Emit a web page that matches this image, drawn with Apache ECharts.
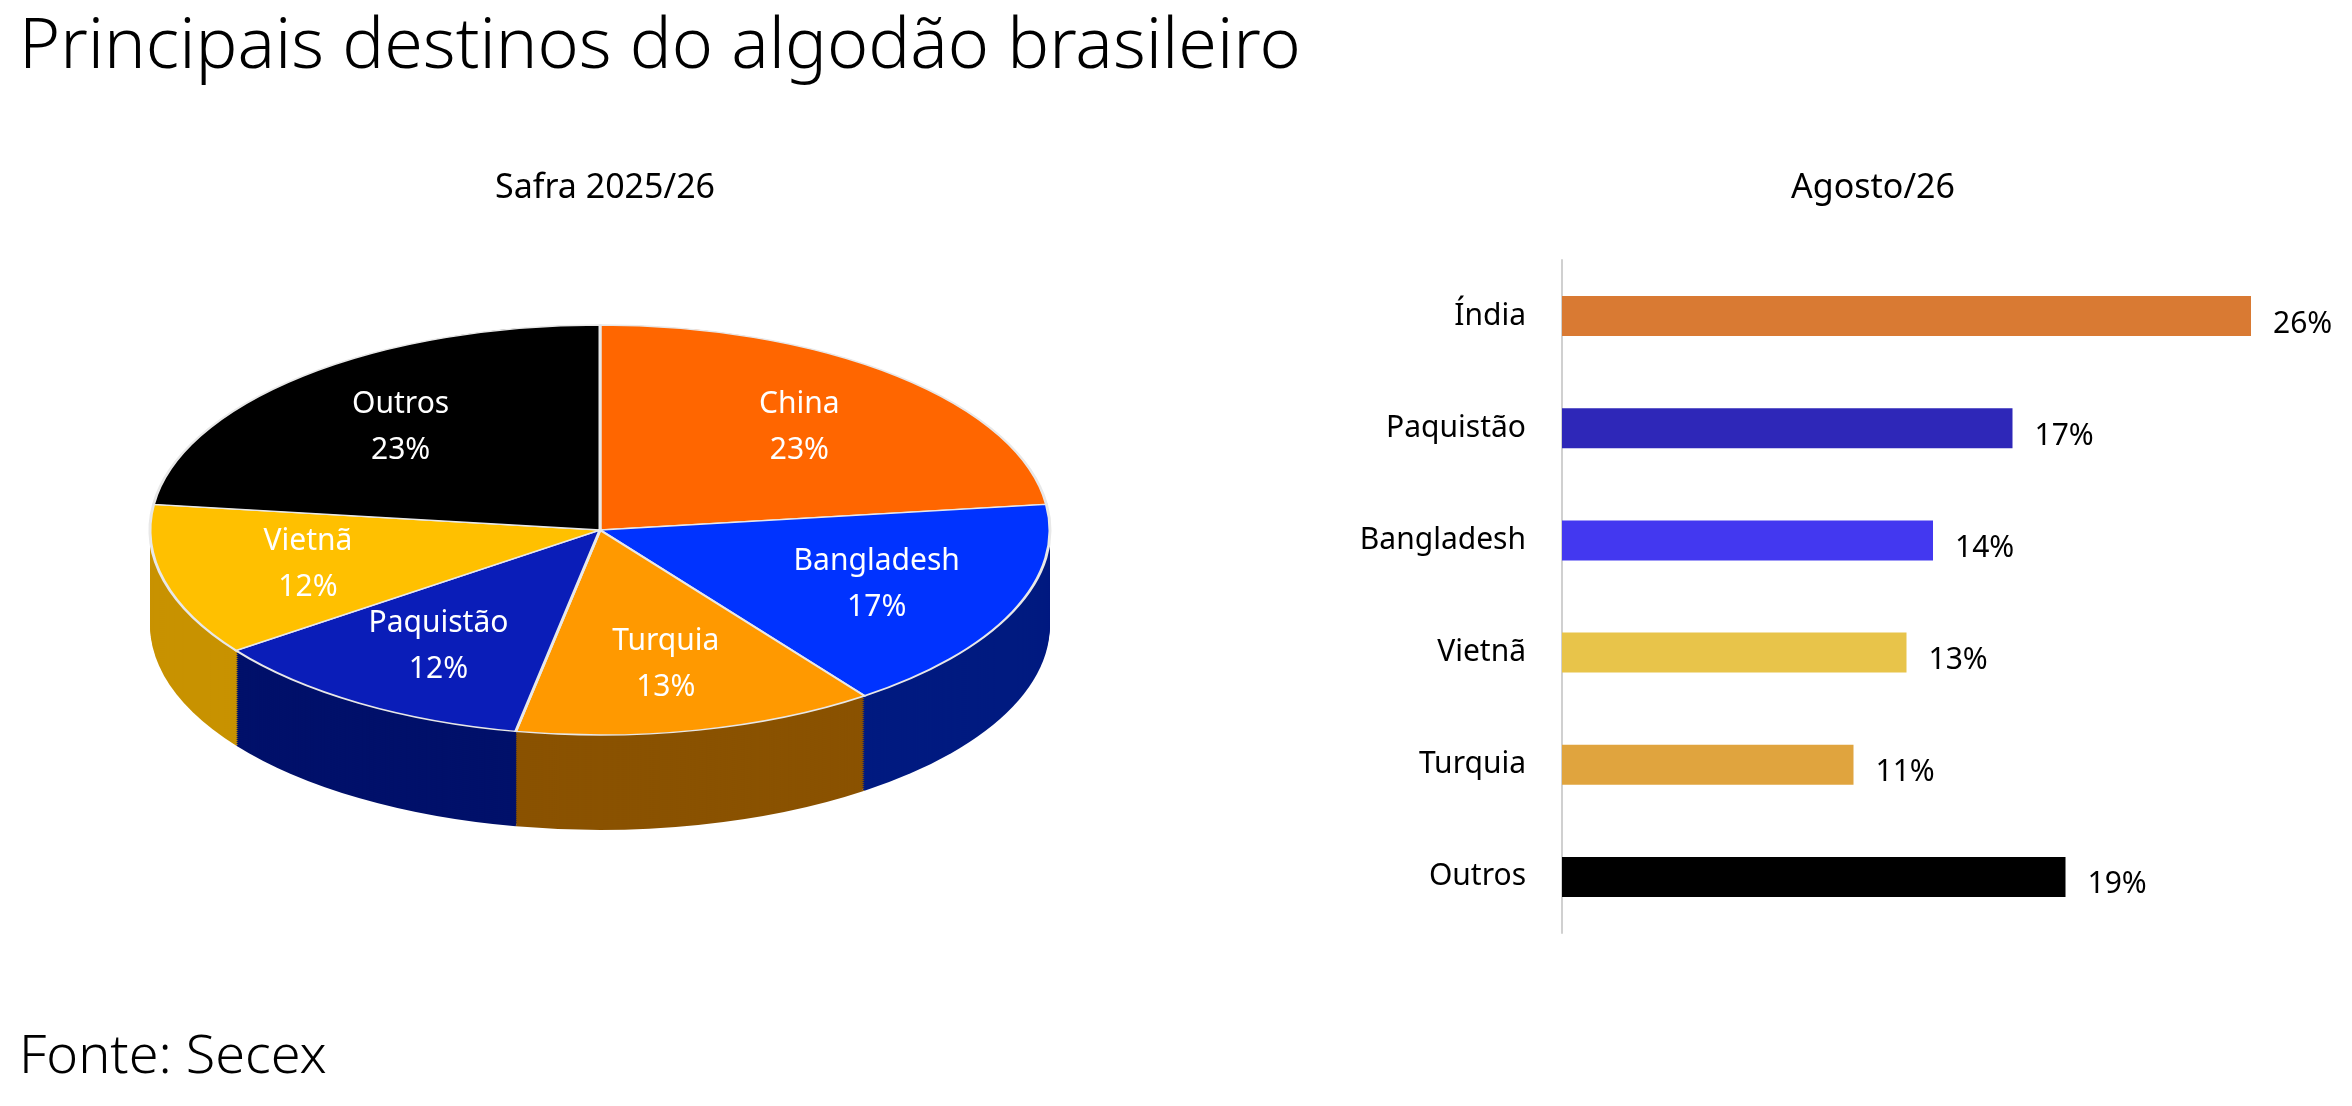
<!DOCTYPE html>
<html><head><meta charset="utf-8">
<script src="https://cdn.jsdelivr.net/npm/echarts@6/dist/echarts.min.js"></script>
<style>html,body{margin:0;padding:0;background:#fff}#c{width:2352px;height:1106px}</style>
</head><body><div id="c"></div>
<script>
const pieNames = ['China','Bangladesh','Turquia','Paquistão','Vietnã','Outros'];
const pieValues = [23,17,13,12,12,23];
const pieColors = ['#FF6600','#0033FF','#FF9900','#0A1DB8','#FFC000','#000000'];
const pieSides = ['#B84800','#001A80','#8A5200','#00106A','#C89200','#000000'];
const barCats = ['Índia','Paquistão','Bangladesh','Vietnã','Turquia','Outros'];
const barValues = [26,17,14,13,11,19];
const barColors = ['#D97A33','#2E27B8','#4338F0','#E8C44A','#E0A43E','#000000'];

const chart = echarts.init(document.getElementById('c'));
const total = pieValues.reduce((a,b)=>a+b,0);
const cx=600, cy=530, rx=450, ry=205, depth=95;
const font = 'Noto Sans';

function renderPie(params, api){
  const children=[];
  let start=-Math.PI/2;
  const angles=pieValues.map(v=>{const s=start;start+=v/total*2*Math.PI;return [s,start];});
  // sides
  for(let k=depth;k>0;k-=2){
    angles.forEach((a,i)=>{
      children.push({type:'sector',shape:{cx:0,cy:0,r:rx,r0:0,startAngle:a[0],endAngle:a[1]},
        style:{fill:pieSides[i]},scaleY:ry/rx,x:cx,y:cy+k,silent:true});
    });
  }
  angles.forEach((a,i)=>{
    children.push({type:'sector',shape:{cx:0,cy:0,r:rx,r0:0,startAngle:a[0],endAngle:a[1]},
      style:{fill:pieColors[i],stroke:'#E8E8E8',lineWidth:3},scaleY:ry/rx,x:cx,y:cy});
  });
  angles.forEach((a,i)=>{
    const m=(a[0]+a[1])/2, f=0.67;
    children.push({type:'text',x:cx+Math.cos(m)*rx*f,y:cy+Math.sin(m)*ry*f,
      style:{text:pieNames[i]+'\n'+pieValues[i]+'%',fill:'#fff',font:'30px "'+font+'"',
      align:'center',verticalAlign:'middle',lineHeight:46}});
  });
  return {type:'group',children};
}

chart.setOption({
  animation:false,
  title:[
    {text:'Principais destinos do algodão brasileiro',left:14,top:8,textStyle:{fontFamily:font,fontWeight:300,fontSize:70,color:'#000'}},
    {text:'Safra 2025/26',left:600,top:166,textAlign:'center',textStyle:{fontFamily:font,fontWeight:400,fontSize:34,color:'#000'}},
    {text:'Agosto/26',left:1868,top:166,textAlign:'center',textStyle:{fontFamily:font,fontWeight:400,fontSize:34,color:'#000'}},
    {text:'Fonte: Secex',left:14,top:1026,textStyle:{fontFamily:font,fontWeight:300,fontSize:54,color:'#000'}}
  ],
  grid:{left:1562,right:48,top:260,bottom:173},
  xAxis:{type:'value',min:0,max:28,show:false},
  yAxis:{type:'category',data:barCats,inverse:true,
    axisLine:{lineStyle:{color:'#D0D0D0',width:2}},axisTick:{show:false},
    axisLabel:{fontFamily:font,fontSize:30,color:'#000',margin:36}},
  series:[
    {type:'bar',data:barValues.map((v,i)=>({value:v,itemStyle:{color:barColors[i]}})),barWidth:40,
     label:{show:true,position:'right',distance:22,formatter:'{c}%',fontFamily:font,fontSize:30,color:'#000',offset:[0,8]}},
    {type:'custom',coordinateSystem:'none',renderItem:renderPie,data:[0]}
  ]
});
</script></body></html>
